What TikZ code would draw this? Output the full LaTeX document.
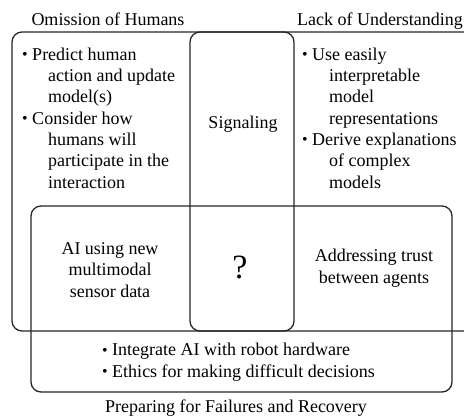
\documentclass[tikz,border=0pt]{standalone}
\usepackage{fontspec}
\setmainfont{Liberation Serif}
% list bullet, a little smaller than the font's own
\newcommand{\dotmark}{\raisebox{0.6pt}{\scalebox{0.88}{\textbullet}}}
\begin{document}
\begin{tikzpicture}[x=1pt,y=-1pt,
  frame/.style={draw=black!85, line width=1.3pt, rounded corners=10pt},
  txt/.style={inner sep=0pt, font=\fontsize{18}{21.3}\selectfont},
  bigtxt/.style={inner sep=0pt, font=\fontsize{34}{36}\selectfont},
]
\clip (0,0) rectangle (464,416);

% the three overlapping problem areas
\draw[frame] (12,32) rectangle (294,331);   % omission of humans
\draw[frame] (190,32) rectangle (492,331);  % lack of understanding
\draw[frame] (31,206) rectangle (452,392);  % failures and recovery

% area titles
\node[txt, anchor=base] (omission) at (108,25) {Omission of Humans};
\node[txt, anchor=base] (lack) at (380,25) {Lack of Understanding};
\node[txt, anchor=base] (failures) at (236,412) {Preparing for Failures and Recovery};

% bullet lists (a multi-line node's base is its last line)
\node[txt, anchor=base west, align=left] (leftlist) at (22,188)
  {\dotmark\ Predict human\\
   \hspace*{26pt}action and update\\
   \hspace*{26pt}model(s)\\
   \dotmark\ Consider how\\
   \hspace*{26pt}humans will\\
   \hspace*{26pt}participate in the\\
   \hspace*{26pt}interaction};
\node[txt, anchor=base west, align=left] (rightlist) at (302,188)
  {\dotmark\ Use easily\\
   \hspace*{27pt}interpretable\\
   \hspace*{27pt}model\\
   \hspace*{27pt}representations\\
   \dotmark\ Derive explanations\\
   \hspace*{27pt}of complex\\
   \hspace*{27pt}models};
\node[txt, anchor=base west, align=left] (bottomlist) at (102,377)
  {\dotmark\ Integrate AI with robot hardware\\
   \dotmark\ Ethics for making difficult decisions};

% overlap labels
\node[txt, anchor=base] (signaling) at (243,128) {Signaling};
\node[txt, anchor=base, align=center] (sensor) at (110,297)
  {AI using new\\multimodal\\sensor data};
\node[bigtxt, anchor=base] (unknown) at (240,278) {?};
\node[txt, anchor=base, align=center] (trust) at (374,283)
  {Addressing trust\\between agents};
\end{tikzpicture}
\end{document}
